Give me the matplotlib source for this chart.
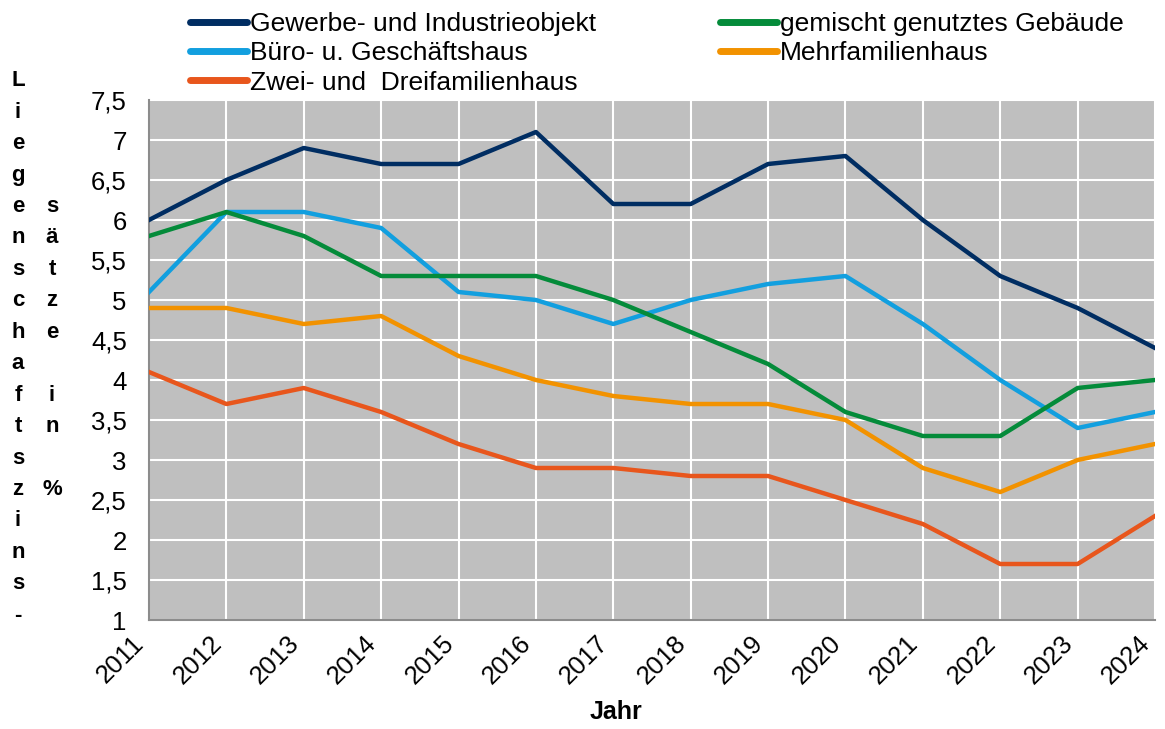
import matplotlib
matplotlib.use('Agg')
import matplotlib.pyplot as plt

plt.rcParams['font.family'] = ['Liberation Sans', 'DejaVu Sans']

years = list(range(2011, 2025))
gewerbe = [6.0, 6.5, 6.9, 6.7, 6.7, 7.1, 6.2, 6.2, 6.7, 6.8, 6.0, 5.3, 4.9, 4.4]
buero = [5.1, 6.1, 6.1, 5.9, 5.1, 5.0, 4.7, 5.0, 5.2, 5.3, 4.7, 4.0, 3.4, 3.6]
zwei = [4.1, 3.7, 3.9, 3.6, 3.2, 2.9, 2.9, 2.8, 2.8, 2.5, 2.2, 1.7, 1.7, 2.3]
gemischt = [5.8, 6.1, 5.8, 5.3, 5.3, 5.3, 5.0, 4.6, 4.2, 3.6, 3.3, 3.3, 3.9, 4.0]
mehr = [4.9, 4.9, 4.7, 4.8, 4.3, 4.0, 3.8, 3.7, 3.7, 3.5, 2.9, 2.6, 3.0, 3.2]

yticks = [1, 1.5, 2, 2.5, 3, 3.5, 4, 4.5, 5, 5.5, 6, 6.5, 7, 7.5]

fig = plt.figure(figsize=(11.65, 7.29), dpi=100)
ax = fig.add_axes([149/1165, 1 - 620/729, (1155 - 149)/1165, (620 - 100)/729])
ax.set_facecolor('#bfbfbf')

# legend order: column-wise fill gives the row layout of the original
l1, = ax.plot(years, gewerbe, color='#002d62', lw=3.2, label='Gewerbe- und Industrieobjekt')
l2, = ax.plot(years, buero, color='#129fdf', lw=3.2, label='Büro- u. Geschäftshaus')
l3, = ax.plot(years, zwei, color='#e8561c', lw=3.2, label='Zwei- und  Dreifamilienhaus')
l4, = ax.plot(years, gemischt, color='#048b3a', lw=3.2, label='gemischt genutztes Gebäude')
l5, = ax.plot(years, mehr, color='#f29200', lw=3.2, label='Mehrfamilienhaus')
for l in (l4, l5, l2, l3, l1):
    l.set_zorder(3)

ax.set_xlim(2011, 2024)
ax.set_ylim(1, 7.5)
ax.set_xticks(years)
ax.set_xticklabels([str(y) for y in years], rotation=45, ha='right', va='top')
ax.set_yticks(yticks)
ax.set_yticklabels([('%g' % v).replace('.', ',') for v in yticks])
ax.tick_params(axis='both', length=0, labelsize=18.5)
ax.tick_params(axis='x', pad=8)
ax.tick_params(axis='y', pad=16)
ax.grid(True, color='white', lw=1.5)
ax.set_axisbelow(True)
for s in ('top', 'right'):
    ax.spines[s].set_visible(False)
for s in ('left', 'bottom'):
    ax.spines[s].set_color('#8c8c8c')
    ax.spines[s].set_linewidth(1.5)

fig.text(616/1165, 1 - 712/729, 'Jahr', fontsize=18, fontweight='bold',
         ha='center', va='center')

col1 = 'Liegenschaftszins-'
col2 = 'sätze in %'
fig.text(18/1165, 1 - 348/729, '\n'.join(col1), fontsize=16, fontweight='bold',
         ha='center', va='center', linespacing=1.653)
fig.text(52/1165, 1 - 348/729, '\n'.join(col2), fontsize=16, fontweight='bold',
         ha='center', va='center', linespacing=1.653)

leg = fig.legend(handles=[l1, l2, l3, l4, l5], ncol=2, loc='upper left',
                 bbox_to_anchor=(190/1165, 1 - 12/729), frameon=False, fontsize=19,
                 handlelength=2.16, handletextpad=0.12, columnspacing=4.67,
                 labelspacing=0.2, borderpad=0, borderaxespad=0)
for h in leg.get_lines():
    h.set_linewidth(5)
    h.set_solid_capstyle('round')

fig.savefig('out.png', dpi=100)
